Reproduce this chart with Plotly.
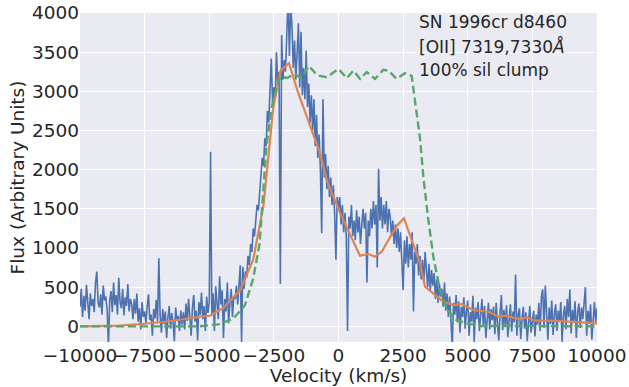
import plotly.graph_objects as go

obs_v_start, obs_v_step = -10000, 50
obs_flux = [
    # -10000 .. -9050
    250, 480, 120, 390, 200, 530, 310, 90, 420, 260, 350, 180, 560, 700, 300, 240, 410, 150, 520, 330,
    # -9000 .. -8050
    380, 210, -250, 330, 450, 180, 560, 270, 400, 150, 620, 310, 230, 480, 140, 370, 260, 540, 190, 350,
    # -8000 .. -7050
    280, 90, 350, 160, 420, 60, 230, -40, 310, 120, 190, 30, 260, 410, 80, 150, -120, 220, 100, 340,
    # -7000 .. -6050
    60, 870, 140, -80, 220, 30, 190, -150, 110, 260, -30, 170, 50, -190, 240, 90, 130, -60, 200, 20,
    # -6000 .. -5050
    180, -40, 290, 70, 350, 130, -120, 240, 400, 60, 200, -180, 310, 150, 430, 90, 260, -60, 380, 170,
    # -5000 .. -4050
    300, 2230, 150, 420, -60, 510, 230, 90, 640, 280, 460, -150, 350, 190, 560, 40, 310, 480, 120, 390,
    # -4000 .. -3050
    350, 520, 280, 610, 780, -200, 760, 480, 700, 620, 900, 780, 1050, 950, 1250, 1150, 1420, 1550, 1480, 1720,
    # -3000 .. -2050
    1850, 2150, 2050, 2400, 2300, 2750, 2600, 3000, 3420, 2850, 3050, 2900, 3500, 3100, 3250, 540, 3720, 3150, 3400, 3250,
    # -2000 .. -1050
    3600, 4200, 3450, 4100, 3830, 3300, 3650, 3150, 3500, 3870, 3050, 3760, 2950, 3300, 2900, 3520, 2800, 3100, 2600, 2950,
    # -1000 .. -50
    2500, 2900, 2300, 2700, 2150, 2450, 2000, 1190, 2900, 1900, 2200, 1750, 2050, 1650, 1900, 1550, 1800, 1450, 850, 1650,
    # 0 .. 950
    1500, 1650, 1300, 1550, 1200, 1450, 1150, -60, 1400, 1250, 1550, 1150, 1350, 1100, 1480, 1200, 1400, 1050, 1300, 1500,
    # 1000 .. 1950
    1250, 1450, 560, 1350, 1150, 1500, 1250, 1600, 1300, 1550, 750, 2010, 1350, 1650, 1250, 1550, 1300, 1600, 1200, 1500,
    # 2000 .. 2950
    1400, 1150, 1350, 1050, 1300, 1000, 1250, 950, 1200, 880, 460, 1100, 800, 1150, 750, 1050, 850, 1200, 190, 950,
    # 3000 .. 3950
    800, 1050, 650, 900, 600, 850, 550, 950, 700, 500, 800, 450, 720, 520, 680, 350, 600, 300, 550, 380,
    # 4000 .. 4950
    480, 250, 560, 200, 420, 120, 380, 60, -250, 300, 150, 400, 50, 320, -80, 250, 120, 370, -30, 200,
    # 5000 .. 5950
    330, -120, 180, 60, 390, -200, 240, 90, 310, -60, 170, 350, 20, 260, -150, 140, 300, -40, 220, 80,
    # 6000 .. 6950
    250, -100, 300, 40, -180, 160, 400, -50, 210, 10, 270, -140, 130, 280, -70, 190, 50, 660, -120, 150,
    # 7000 .. 7950
    230, -160, 90, 250, -30, 180, -190, 120, 260, -80, 40, 200, -130, 150, 20, 300, -60, 380, 470, -20,
    # 8000 .. 8950
    520, 100, -170, 240, 30, 330, -110, 160, 280, -60, 200, 60, 310, -200, 140, 260, -40, 350, 120, 470,
    # 9000 .. 10000
    -90, 210, 60, 320, -150, 180, 290, -20, 240, 90, 350, 500, -120, 200, 40, 280, -170, 160, 310, 50, 230,
]
obs_v = [obs_v_start + obs_v_step * i for i in range(len(obs_flux))]

# Model 1 (orange, solid)
model_v = [-10000, -8500, -7600, -6800, -6000, -5350, -4970, -4470, -3810, -3300, -2900, -2520, -2240,
           -1915, -1555, -1170, -716, -457, 58, 510, 832, 1155, 1412, 1670, 1992, 2250, 2534, 2893,
           3153, 3346, 3668, 4055, 4442, 4765, 5215, 5860, 6180, 6500, 6760, 7020, 7280, 7600, 8440,
           9200, 10000]
model_f = [0, 10, 30, 55, 90, 125, 135, 230, 460, 850, 1550, 2800, 3265,
           3360, 2976, 2635, 2213, 1869, 1447, 1128, 902, 923, 889, 953, 1145, 1281, 1380, 1060,
           805, 506, 420, 315, 272, 285, 208, 180, 123, 136, 110, 93, 115, 72, 70,
           55, 38]

# Model 2 (green, dashed): 100% sil clump
clump_v = [-10000, -5400, -4650, -4080, -3620, -3300, -3050, -2900, -2790, -2580, -2390, -2240, -2000,
           -1700, -1440, -1150, -860, -716, -455, 0, 320, 578, 836, 1093, 1412, 1734, 1928, 2250,
           2572, 2830, 2960, 3153, 3282, 3475, 3668, 3926, 4184, 4506, 4958, 5500, 10000]
clump_f = [0, 0, 25, 95, 270, 610, 1060, 1720, 2300, 2800, 3060, 3190, 3170,
           3220, 3170, 3325, 3220, 3197, 3180, 3286, 3168, 3265, 3159, 3245, 3159, 3274, 3265, 3159,
           3232, 3197, 2891, 2400, 1911, 1358, 889, 464, 230, 89, 38, 5, 0]

x_ticks = [-10000, -7500, -5000, -2500, 0, 2500, 5000, 7500, 10000]
x_tick_text = ["\u221210000", "\u22127500", "\u22125000", "\u22122500", "0", "2500", "5000", "7500", "10000"]
y_ticks = [0, 500, 1000, 1500, 2000, 2500, 3000, 3500, 4000]
y_tick_text = ["0", "500", "1000", "1500", "2000", "2500", "3000", "3500", "4000"]
label_lines = ["SN 1996cr d8460", "[OII] 7319,7330<i>Å</i>", "100% sil clump"]

FONT = "DejaVu Sans"
TXT = "#262626"
FS = 18.5

fig = go.Figure()
fig.add_trace(go.Scatter(x=obs_v, y=obs_flux, mode="lines",
                         line=dict(color="#4C72B0", width=1.6), showlegend=False))
fig.add_trace(go.Scatter(x=model_v, y=model_f, mode="lines",
                         line=dict(color="#DD8452", width=2.2), showlegend=False))
fig.add_trace(go.Scatter(x=clump_v, y=clump_f, mode="lines",
                         line=dict(color="#55A868", width=2.4, dash="8px,4px"), showlegend=False))

label_y = [3880, 3578, 3275]
for txt, yy in zip(label_lines, label_y):
    fig.add_annotation(x=3030, y=yy, xref="x", yref="y", text=txt, showarrow=False,
                       xanchor="left", yanchor="middle",
                       font=dict(family=FONT, size=17, color=TXT))

fig.update_layout(
    width=629, height=387,
    margin=dict(l=80, r=32, t=13, b=45),
    paper_bgcolor="white", plot_bgcolor="#EAEAF2",
    font=dict(family=FONT, size=FS, color=TXT),
    xaxis=dict(range=[-10000, 10000], tickvals=x_ticks, ticktext=x_tick_text, tickangle=0,
               automargin=False, showgrid=True,
               gridcolor="white", gridwidth=1, zeroline=False, showline=False, ticks="",
               title=dict(text="Velocity (km/s)", standoff=0, font=dict(size=FS)),
               tickfont=dict(size=FS)),
    yaxis=dict(range=[-200, 4000], tickvals=y_ticks, ticktext=y_tick_text, tickangle=0,
               automargin=False, showgrid=True,
               gridcolor="white", gridwidth=1, zeroline=False, showline=False, ticks="",
               title=dict(text="Flux (Arbitrary Units)", standoff=2, font=dict(size=FS)),
               tickfont=dict(size=FS)),
)

fig.write_html("out.html")
